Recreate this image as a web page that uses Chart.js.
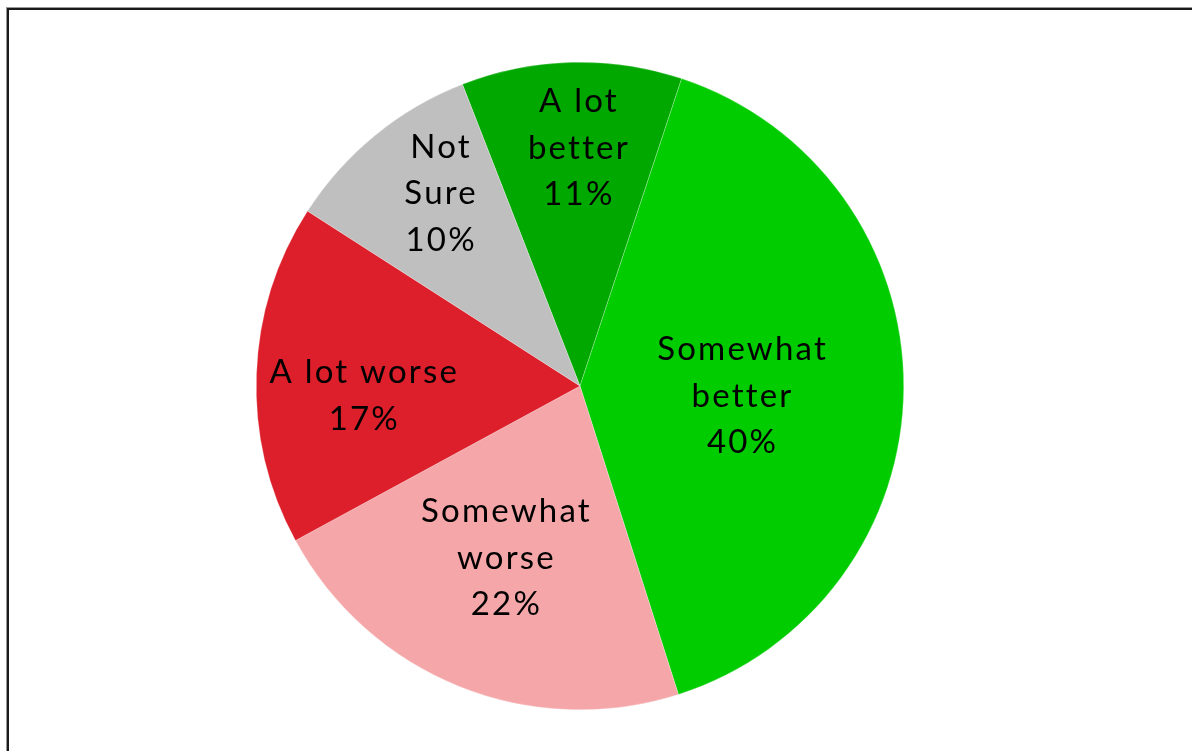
<!DOCTYPE html>
<html>
<head>
<meta charset="utf-8">
<script src="https://cdn.jsdelivr.net/npm/chart.js@4.4.1/dist/chart.umd.min.js"></script>
<style>
    html, body { margin: 0; padding: 0; background: #fff; overflow: hidden; }
    body { width: 1192px; height: 751px; position: relative; }
    #frame {
        position: absolute; left: 7px; top: 8px;
        width: 1300px; height: 900px;
        border: 2px solid #1a1a1a;
        box-shadow: 0 0 0 1px #999;
    }
    #wrap { position: absolute; left: 250px; top: 56px; width: 660px; height: 660px; }
</style>
</head>
<body>
<div id="frame"></div>
<div id="wrap"><canvas id="pie_graph"></canvas></div>
<script>
const categories = [['A lot', 'better'], ['Somewhat', 'better'], ['Somewhat', 'worse'], ['A lot worse'], ['Not', 'Sure']];
const shares = [11, 40, 22, 17, 10];
const sliceColors = ['#00a800', '#00cc00', '#f4a6a8', '#dc1f2a', '#bfbfbf'];

// where each label sits: fraction of radius, angle nudge in degrees
const labelPlace = [[0.735, 1], [0.5, 3.2], [0.58, 1.5], [0.67, -4.7], [0.735, 3.3]];

const sliceLabels = {
    id: 'sliceLabels',
    afterDatasetsDraw(chart) {
        const ctx = chart.ctx;
        const meta = chart.getDatasetMeta(0);
        ctx.save();
        ctx.fillStyle = '#000';
        ctx.font = '33px Lato';
        ctx.letterSpacing = '2.2px';
        ctx.textAlign = 'center';
        ctx.textBaseline = 'middle';
        meta.data.forEach(function (arc, i) {
            const p = arc.getProps(['x', 'y', 'startAngle', 'endAngle', 'outerRadius'], true);
            const mid = (p.startAngle + p.endAngle) / 2 + labelPlace[i][1] * Math.PI / 180;
            const r = p.outerRadius * labelPlace[i][0];
            const cx = p.x + Math.cos(mid) * r + 1;
            const cy = p.y + Math.sin(mid) * r;
            const lines = categories[i].concat([shares[i] + '%']);
            const lh = 46.5;
            lines.forEach(function (t, k) {
                ctx.fillText(t, cx, cy + (k - (lines.length - 1) / 2) * lh);
            });
        });
        ctx.restore();
    }
};

new Chart(document.getElementById('pie_graph'), {
    type: 'pie',
    data: {
        labels: categories.map(function (c) { return c.join(' '); }),
        datasets: [{
            data: shares,
            backgroundColor: sliceColors,
            borderColor: 'rgba(255,255,255,0.5)',
            borderWidth: 0.5
        }]
    },
    options: {
        responsive: true,
        maintainAspectRatio: false,
        animation: false,
        rotation: -21.3,
        layout: { padding: 6 },
        plugins: {
            legend: { display: false },
            tooltip: { enabled: false }
        }
    },
    plugins: [sliceLabels]
});
</script>
</body>
</html>
